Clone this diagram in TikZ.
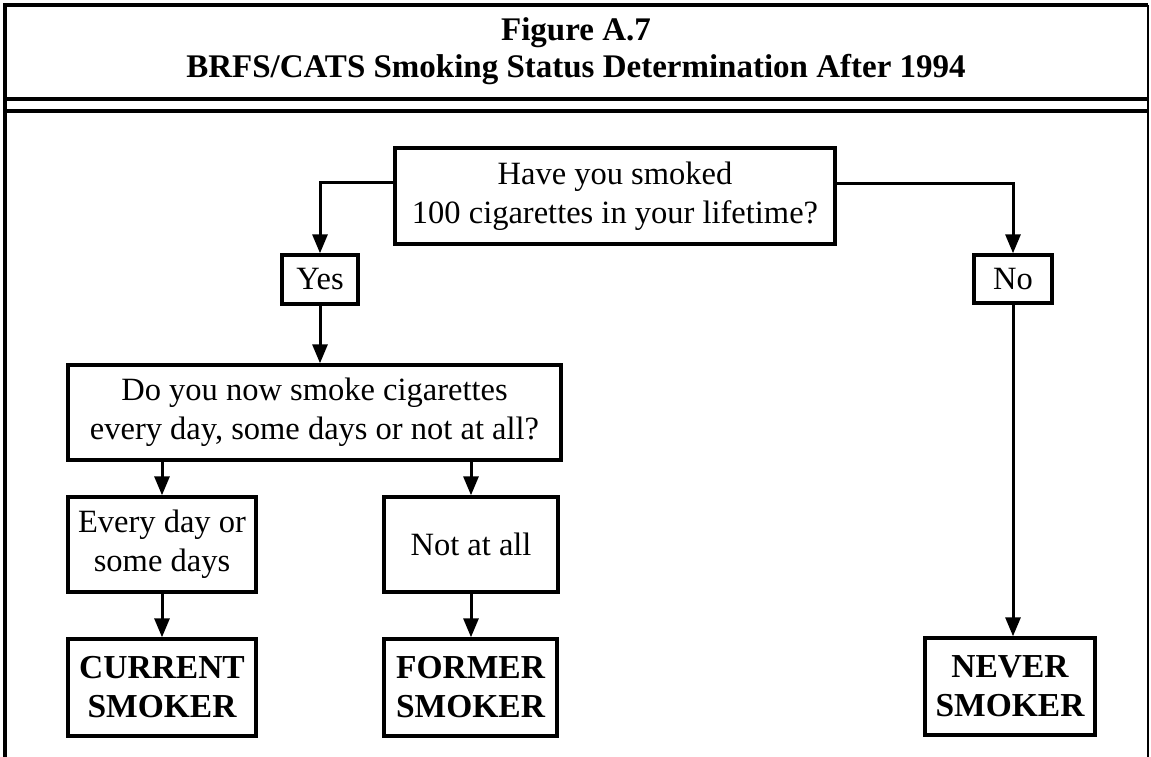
\documentclass[tikz,border=0pt]{standalone}
\usepackage{fontspec}
\setmainfont{Liberation Serif}
\usetikzlibrary{arrows.meta,calc}
\begin{document}
\begin{tikzpicture}[x=1pt,y=-1pt,
  box/.style={draw,line width=3.4pt,inner sep=0pt,align=center,font=\fontsize{32.5}{39}\selectfont},
  outbox/.style={box,font=\fontsize{33.5}{39}\selectfont\bfseries},
  arr/.style={line width=3pt,-{Triangle[length=19pt,width=15pt]}},
  frame/.style={line width=3.2pt}]
\useasboundingbox (0,0) rectangle (1151,757);
% frame
\draw[frame] (5,760) -- (5,5) -- (1148,5);
\draw[line width=2.2pt] (1148,5) -- (1148,760);
\draw[frame] (5,99) -- (1148,99);
\draw[frame] (5,111) -- (1148,111);
\node[align=center,font=\fontsize{33}{37}\selectfont\bfseries] (title) at (576,51)
  {Figure A.7\\BRFS/CATS Smoking Status Determination After 1994};
% nodes
\node[box,minimum width=440pt,minimum height=96pt] (q1) at (615,196)
  {Have you smoked\\100 cigarettes in your lifetime?};
\node[box,minimum width=76pt,minimum height=49pt] (yes) at (320,279.5) {Yes};
\node[box,minimum width=78pt,minimum height=48pt] (no) at (1013,279) {No};
\node[box,minimum width=493pt,minimum height=95pt] (q2) at (314.5,412.5)
  {Do you now smoke cigarettes\\every day, some days or not at all?};
\node[box,minimum width=188pt,minimum height=95pt] (every) at (162,544.5)
  {Every day or\\some days};
\node[box,minimum width=174pt,minimum height=95pt] (notall) at (471,544.5)
  {Not at all};
\node[outbox,minimum width=188pt,minimum height=97pt] (current) at (162,687.5)
  {CURRENT\\SMOKER};
\node[outbox,minimum width=173pt,minimum height=97pt] (former) at (470.5,687.5)
  {FORMER\\SMOKER};
\node[outbox,minimum width=170pt,minimum height=97pt] (never) at (1010,686.5)
  {NEVER\\SMOKER};
% connectors
\draw[arr] ([yshift=14pt]q1.west) -| (yes.north);
\draw[arr] ([yshift=13pt]q1.east) -| (no.north);
\draw[arr] (yes.south) -- (yes.south |- q2.north);
\draw[arr] (every.north |- q2.south) -- (every.north);
\draw[arr] (notall.north |- q2.south) -- (notall.north);
\draw[arr] (every.south) -- (current.north);
\draw[arr] (notall.south) -- (notall.south |- former.north);
\draw[arr] (no.south) -- (no.south |- never.north);
\end{tikzpicture}
\end{document}
